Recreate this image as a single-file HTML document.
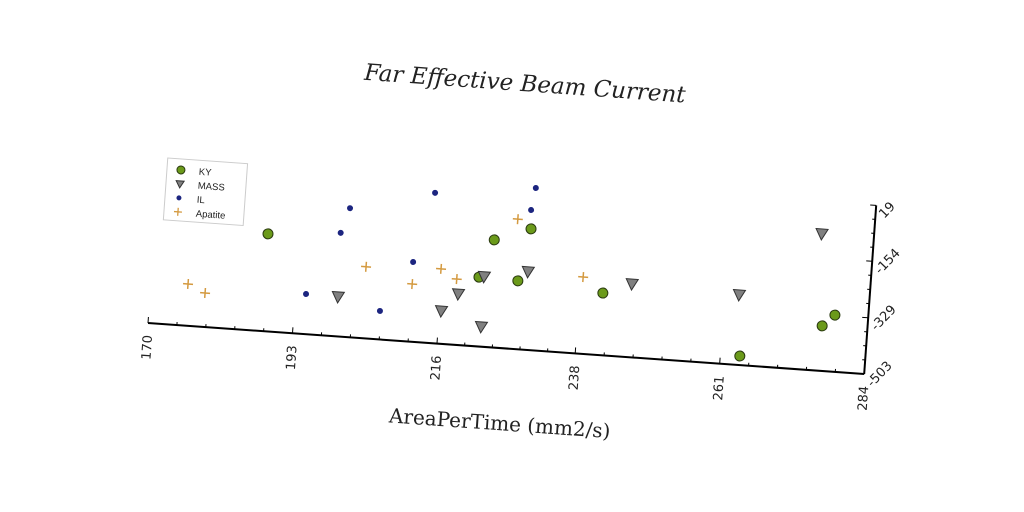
<!DOCTYPE html>
<html><head><meta charset="utf-8"><style>
html,body{margin:0;padding:0;background:#fff;width:1024px;height:512px;overflow:hidden}
text{font-family:"Liberation Sans",sans-serif}
.serif{font-family:"DejaVu Serif","Liberation Serif",serif}
.tick{font-family:"DejaVu Sans","Liberation Sans",sans-serif}
</style></head><body>
<svg id="chart" width="1024" height="512" viewBox="0 0 1024 512" xmlns="http://www.w3.org/2000/svg">
<g id="plot" transform="translate(148 323) rotate(4.07)">
<text class="serif" x="359" y="-258" text-anchor="middle" font-size="23" font-style="italic" fill="#222">Far Effective Beam Current</text>
<text class="serif" x="358" y="82" text-anchor="middle" font-size="20" fill="#222">AreaPerTime (mm2/s)</text>
<line x1="0" y1="0" x2="718" y2="0" stroke="#000" stroke-width="2"/>
<line x1="718" y1="0" x2="718" y2="-169" stroke="#000" stroke-width="2"/>
<g id="xticks"></g>
<g id="yticks"></g>
<g id="marks"></g>
<g transform="translate(8 -166)">
<rect x="0" y="0" width="80" height="62" fill="#fff" stroke="#ccc" stroke-width="1"/>
<g><circle cx="14" cy="11" r="4" fill="#6b9a1a" stroke="#2a3a10"/><text x="32" y="14.5" font-size="9.5" fill="#222">KY</text></g>
<g><path d="M10,22 L18,22 L14,29 Z" fill="#808080" stroke="#333"/><text x="32" y="28.5" font-size="9.5" fill="#222">MASS</text></g>
<g><circle cx="14" cy="39" r="2.5" fill="#1c2580"/><text x="32" y="42.5" font-size="9.5" fill="#222">IL</text></g>
<g><path d="M10,53 L18,53 M14,49 L14,57" stroke="#d49a40" stroke-width="1.3"/><text x="32" y="56.5" font-size="9.5" fill="#222">Apatite</text></g>
</g>
</g>
</svg>
<script>
const xTicks=[170,193,216,238,261,284];
const yTicks=[-503,-329,-154,19];
const kyX=[188.0,223.9,229.6,221.9,228.1,241.7,264.1,276.8,278.7];
const kyY=[-202,-171,-129,-289,-292,-311,-475,-364,-328];
const massX=[199.8,216.3,218.8,222.8,222.7,229.6,246.2,263.3,275.7];
const massY=[-381,-402,-346,-442,-287,-262,-277,-287,-81];
const ilX=[194.7,200.7,199.5,206.6,211.3,214.0,229.4,229.9];
const ilY=[-379,-105,-183,-415,-257,-39,-71,-2];
const apX=[175.9,178.7,203.9,211.4,215.8,218.4,227.4,238.4];
const apY=[-374,-398,-282,-325,-272,-300,-102,-266];
const W=718,H=169,xmin=170,xmax=284,ymin=-503,ymax=19;
const sx=v=>(v-xmin)/(xmax-xmin)*W;
const sy=v=>-(v-ymin)/(ymax-ymin)*H;
const NS="http://www.w3.org/2000/svg";
function mk(tag,attrs,parent){const e=document.createElementNS(NS,tag);for(const k in attrs)e.setAttribute(k,attrs[k]);parent.appendChild(e);return e;}
const xg=document.getElementById('xticks'),yg=document.getElementById('yticks'),mg=document.getElementById('marks');
xTicks.forEach((t,i)=>{
  const x=sx(t);
  const l=mk('line',{x1:x,y1:0,x2:x,y2:-6,stroke:'#000'},xg);
  
  
  const tx=mk('text',{class:'tick',x:0,y:0,'font-size':13,fill:'#222','text-anchor':'end',transform:`translate(${x+5} 12) rotate(-90)`},xg);
  tx.textContent=t;
  
  
  if(i<xTicks.length-1){for(let k=1;k<5;k++){const mx=x+(sx(xTicks[i+1])-x)*k/5;const m=mk('line',{x1:mx,y1:0,x2:mx,y2:-3,stroke:'#000'},xg);
  
  }}
});
yTicks.forEach((t,i)=>{
  const y=sy(t);
  const l=mk('line',{x1:W,y1:y,x2:W-6,y2:y,stroke:'#000'},yg);
  
  
  const tx=mk('text',{class:'tick',x:0,y:0,'font-size':13,fill:'#222','text-anchor':'start',transform:`translate(${W+9} ${y+13}) rotate(-50)`},yg);
  tx.textContent=t;
  
  
  if(i<yTicks.length-1){for(let k=1;k<4;k++){const my=y+(sy(yTicks[i+1])-y)*k/4;const m=mk('line',{x1:W,y1:my,x2:W-3,y2:my,stroke:'#000'},yg);
  
  }}
});
kyX.forEach((v,i)=>{const c=mk('circle',{cx:sx(v),cy:sy(kyY[i]),r:5,fill:'#6b9a1a',stroke:'#2a3a10','stroke-width':1},mg);

});
massX.forEach((v,i)=>{const x=sx(v),y=sy(massY[i]);const p=mk('path',{d:`M${x-6},${y-5} L${x+6},${y-5} L${x},${y+6} Z`,fill:'#808080',stroke:'#333','stroke-width':1},mg);

});
ilX.forEach((v,i)=>{const c=mk('circle',{cx:sx(v),cy:sy(ilY[i]),r:3,fill:'#1c2580'},mg);

});
apX.forEach((v,i)=>{const x=sx(v),y=sy(apY[i]);const p=mk('path',{d:`M${x-5},${y} L${x+5},${y} M${x},${y-5} L${x},${y+5}`,stroke:'#d49a40','stroke-width':1.5},mg);

});
</script>
</body></html>
